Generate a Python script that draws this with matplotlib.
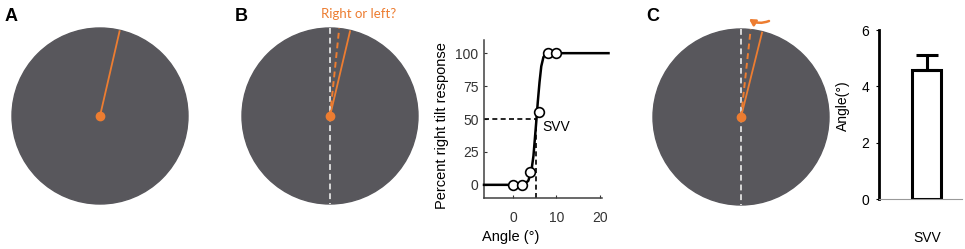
import numpy as np
import matplotlib
matplotlib.use('Agg')
import matplotlib.pyplot as plt
from matplotlib.patches import Circle, FancyArrowPatch

# psychometric data (panel B)
angle_pts = [0, 2, 4, 6, 8, 10]
right_pct = [0, 0, 10, 55, 100, 100]
fit_x = [-6.7, 1, 2.5, 3.5, 4.2, 4.7, 5.1, 5.4, 5.7, 6.1, 6.5, 7.0, 7.5, 8.2, 22]
fit_y = [0, 0, 0.5, 3, 10, 22, 38, 50, 63, 78, 90, 97, 99.5, 100, 100]
svv_x = 5.4
svv_y = 50

# bar data (panel C)
bar_labels = ['SVV']
bar_vals = [4.58]
bar_err = [0.52]

# line tilts in degrees from vertical
tilt_a = 13.0
tilt_b_line = 13.3
tilt_b_dash = 6.0
tilt_c_line = 14.0
tilt_c_dash = 6.3

plt.rcParams['font.family'] = ['Liberation Sans', 'DejaVu Sans']
orange = '#ED7D31'
disk = '#58575c'

fig = plt.figure(figsize=(9.65, 2.49), dpi=100)

# drawing layer in pixel coords
ov = fig.add_axes([0, 0, 1, 1])
ov.set_xlim(0, 965)
ov.set_ylim(249, 0)
ov.axis('off')

R = 88
def draw_disk(cx, cy, tilt, dash_tilt=None, vertical=False):
    ov.add_patch(Circle((cx, cy), R, color=disk, zorder=1))
    if vertical:
        ov.plot([cx, cx], [cy - R, cy + R], color='#d8d8d8', lw=1.4,
                dashes=(3, 2), zorder=2)
    if dash_tilt is not None:
        t = np.radians(dash_tilt)
        ov.plot([cx, cx + R * np.sin(t)], [cy, cy - R * np.cos(t)],
                color=orange, lw=1.4, dashes=(3, 2), zorder=3)
    t = np.radians(tilt)
    ov.plot([cx, cx + (R - 1) * np.sin(t)], [cy, cy - (R - 1) * np.cos(t)],
            color=orange, lw=1.3, zorder=3)
    ov.plot(cx, cy, 'o', color=orange, ms=6, zorder=4)

draw_disk(100, 116, tilt_a)
draw_disk(330, 116, tilt_b_line, tilt_b_dash, vertical=True)
draw_disk(741, 117, tilt_c_line, tilt_c_dash, vertical=True)

for lab, x in [('A', 11), ('B', 241), ('C', 653)]:
    ov.text(x, 16, lab, fontsize=13, fontweight='bold', ha='center', va='center')

ov.text(359, 14, 'Right or left?', color=orange, fontsize=9.5,
        family=['Lato', 'DejaVu Sans'], ha='center', va='center')
ov.add_patch(FancyArrowPatch((769, 21), (749, 19), connectionstyle='arc3,rad=-0.25',
                             arrowstyle='-|>,head_length=3.5,head_width=2',
                             mutation_scale=1, shrinkA=0, shrinkB=0,
                             color=orange, lw=1.8, zorder=5))

# psychometric panel
ax = fig.add_axes([484 / 965, 51 / 249, 118 / 965, 158 / 249])
ax.plot(fit_x, fit_y, color='black', lw=1.8, zorder=3, clip_on=False)
ax.plot([-6.7, svv_x], [svv_y, svv_y], 'k--', lw=1.2, dashes=(3, 2))
ax.plot([svv_x, svv_x], [-10, svv_y], 'k--', lw=1.2, dashes=(3, 2))
ax.plot(angle_pts, right_pct, 'o', mfc='white', mec='black', ms=7, mew=1.2,
        zorder=4, clip_on=False)
ax.text(6.8, 43.7, 'SVV', fontsize=10, ha='left', va='center')
ax.set_xlim(-6.7, 20.5)
ax.set_ylim(-10, 110)
ax.set_xticks([0, 10, 20])
ax.set_yticks([0, 25, 50, 75, 100])
ax.tick_params(direction='in', length=2, labelsize=10, colors='#333333',
               width=0.8)
ax.tick_params(axis='x', pad=9)
ax.tick_params(axis='y', pad=4)
for s in ['top', 'right']:
    ax.spines[s].set_visible(False)
for s in ['left', 'bottom']:
    ax.spines[s].set_color('#404040')
    ax.spines[s].set_linewidth(1.1)
ax.set_ylabel('Percent right tilt response', fontsize=10.5)
ax.yaxis.set_label_coords(-0.3, 0.46)
ax.set_xlabel('Angle (°)', fontsize=10.5)
ax.xaxis.set_label_coords(0.23, -0.2)
ax.patch.set_alpha(0)

# bar panel
bx = fig.add_axes([879 / 965, 50 / 249, 83 / 965, 169 / 249])
bx.bar([0.575], bar_vals, width=0.35, color='white', edgecolor='black', lw=2.2)
bx.errorbar([0.575], bar_vals, yerr=[[0], bar_err], fmt='none', ecolor='black',
            elinewidth=2.2, capsize=8, capthick=2.2)
bx.set_xlim(0, 1)
bx.set_ylim(0, 6)
bx.set_yticks([0, 2, 4, 6])
bx.set_xticks([0.575])
bx.set_xticklabels(bar_labels)
bx.tick_params(axis='x', length=0, pad=23, labelsize=10)
bx.tick_params(axis='y', length=2, labelsize=10, pad=5)
for s in ['top', 'right']:
    bx.spines[s].set_visible(False)
bx.spines['left'].set_linewidth(2)
bx.spines['bottom'].set_linewidth(0.8)
bx.spines['bottom'].set_color('#999999')
bx.set_ylabel('Angle(°)', fontsize=10)
bx.yaxis.set_label_coords(-0.35, 0.55)
bx.patch.set_alpha(0)

fig.savefig('out.png', dpi=100)
